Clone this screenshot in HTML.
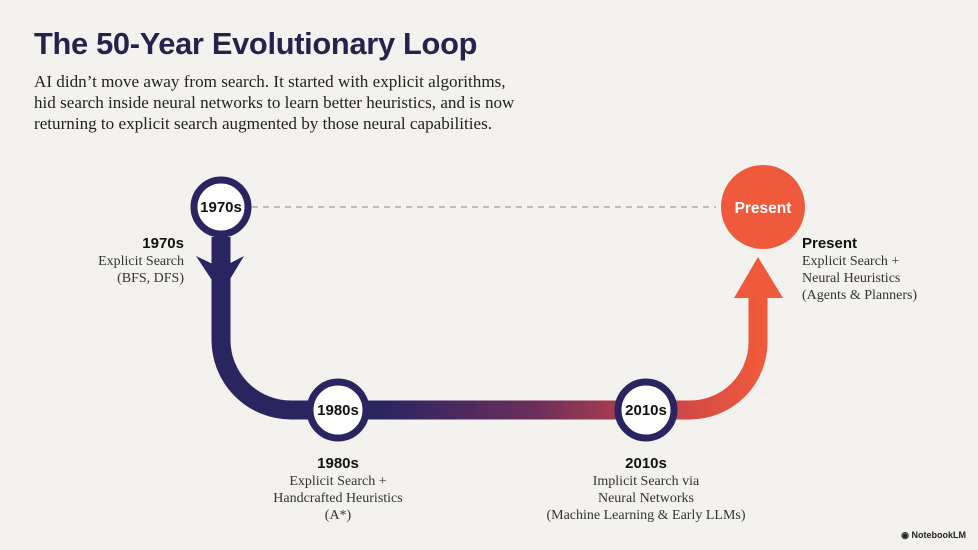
<!DOCTYPE html>
<html><head><meta charset="utf-8"><style>
html,body{margin:0;padding:0;}
body{width:978px;height:550px;background:#f3f2ee;position:relative;overflow:hidden;font-family:"Liberation Serif",serif;}
.t{position:absolute;left:34px;top:26px;font:bold 30.8px "Liberation Sans",sans-serif;color:#25224f;letter-spacing:-0.3px;}
.s{position:absolute;left:34px;top:71px;font-size:17.1px;line-height:21px;color:#222;}
.lab{position:absolute;font-size:14px;line-height:17px;color:#333;}
.lab b{font:bold 15px "Liberation Sans",sans-serif;color:#111;display:block;line-height:18px;}
svg{position:absolute;left:0;top:0;}
.nb{position:absolute;right:12px;bottom:9px;font:bold 9px "Liberation Sans",sans-serif;color:#222;}
</style></head><body>
<svg width="978" height="550">
<defs>
<linearGradient id="g" gradientUnits="userSpaceOnUse" x1="380" y1="0" x2="760" y2="0">
<stop offset="0" stop-color="#2a2560"/><stop offset="0.4" stop-color="#6a2e5a"/><stop offset="0.75" stop-color="#c8444a"/><stop offset="1" stop-color="#f05a3c"/>
</linearGradient>
</defs>
<line x1="252" y1="207" x2="716" y2="207" stroke="#aaa" stroke-width="1.5" stroke-dasharray="6,5"/>
<path d="M221 237 V340 A70 70 0 0 0 291 410 H380" fill="none" stroke="#2a2560" stroke-width="19"/>
<path d="M380 410 H690 A68 68 0 0 0 758 342 V290" fill="none" stroke="url(#g)" stroke-width="19"/>
<path d="M196 256 L221 294 L244 256 L221 268 Z" fill="#2a2560"/>
<path d="M734 298 L758 257 L783 298 Z" fill="#f05a3c"/>
<circle cx="221" cy="207" r="27" fill="#fff" stroke="#2a2560" stroke-width="7"/>
<circle cx="338" cy="410" r="28" fill="#fff" stroke="#2a2560" stroke-width="7"/>
<circle cx="646" cy="410" r="28" fill="#fff" stroke="#2a2560" stroke-width="7"/>
<circle cx="763" cy="207" r="42" fill="#f05a3c"/>
<g font-family="Liberation Sans,sans-serif" font-weight="bold" font-size="15" text-anchor="middle" fill="#111">
<text x="221" y="212">1970s</text><text x="338" y="415">1980s</text><text x="646" y="415">2010s</text>
<text x="763" y="213" fill="#fff" font-size="15.5">Present</text></g>
</svg>
<div class="t">The 50-Year Evolutionary Loop</div>
<div class="s">AI didn’t move away from search. It started with explicit algorithms,<br>hid search inside neural networks to learn better heuristics, and is now<br>returning to explicit search augmented by those neural capabilities.</div>
<div class="lab" style="right:794px;top:235px;text-align:right"><b>1970s</b>Explicit Search<br>(BFS, DFS)</div>
<div class="lab" style="left:228px;width:220px;top:455px;text-align:center"><b>1980s</b>Explicit Search +<br>Handcrafted Heuristics<br>(A*)</div>
<div class="lab" style="left:516px;width:260px;top:455px;text-align:center"><b>2010s</b>Implicit Search via<br>Neural Networks<br>(Machine Learning &amp; Early LLMs)</div>
<div class="lab" style="left:802px;top:235px"><b>Present</b>Explicit Search +<br>Neural Heuristics<br>(Agents &amp; Planners)</div>
<div class="nb">◉ NotebookLM</div>
</body></html>
